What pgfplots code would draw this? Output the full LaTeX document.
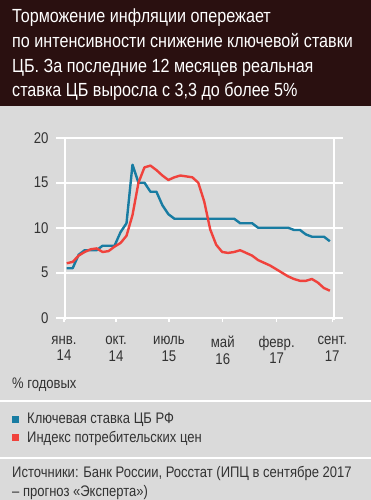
\documentclass[border=0pt]{standalone}
\usepackage{pgfplots}
\pgfplotsset{compat=1.18}
\usepackage{fontspec}
\setmainfont{Liberation Sans}[FakeStretch=0.85]
\definecolor{hdr}{RGB}{42,16,16}
\definecolor{bg}{RGB}{218,218,218}
\definecolor{kblue}{RGB}{24,124,162}
\definecolor{kred}{RGB}{240,66,60}
\definecolor{txt}{RGB}{50,50,50}
\begin{document}
\begin{tikzpicture}[x=1pt,y=1pt]
\useasboundingbox (0,0) rectangle (371,-500);
\fill[bg] (0,0) rectangle (371,-500);
\fill[hdr] (0,0) rectangle (371,-106);
\begin{scope}[every node/.style={anchor=base west, inner sep=0pt, text=white, font=\fontsize{19}{22}\selectfont}]
\node at (12,-23) {Торможение инфляции опережает};
\node at (12,-47.8) {по интенсивности снижение ключевой ставки};
\node at (12,-72.5) {ЦБ. За последние 12 месяцев реальная};
\node at (12,-97) {ставка ЦБ выросла с 3,3 до более 5\%};
\end{scope}

\begin{axis}[
  at={(56pt,-317.7pt)}, anchor=south west,
  scale only axis, width=287pt, height=180pt,
  xmin=-1.79, xmax=46.2, ymin=0, ymax=20,
  ytick={0,5,10,15,20},
  xtick={-0.45,8.25,17.1,26.1,35.1,44.4},
  xticklabels={{янв.\\14},{окт.\\14},{июль\\15},{май\\16},{февр.\\17},{сент.\\17}},
  xticklabel style={align=center, font=\fontsize{15.5}{16.5}\selectfont, text=txt, yshift=-11pt},
  yticklabel style={font=\fontsize{15.5}{15.5}\selectfont, text=txt},
  /pgf/number format/assume math mode=true,
  axis line style={draw=none},
  ymajorgrids,
  major grid style={white, line width=1.6pt},
  y tick style={draw=none},
  x tick style={white, line width=1.2pt},
  tick align=outside, major tick length=4pt,
  xtick pos=bottom, ytick pos=left,
  extra x ticks={-0.3,44.7},
  extra x tick labels={},
  extra x tick style={grid=major, major tick length=2pt},
]
\addplot[kblue, line width=2.4pt, line join=round] coordinates {
(0,5.5)(1,5.5)(2,7.0)(3,7.5)(4,7.5)(5,7.5)(6,8.0)(7,8.0)(8,8.0)(9,9.5)(10,10.5)
(11,17.0)(12,15.0)(13,15.0)(14,14.0)(15,14.0)(16,12.5)(17,11.5)(18,11.0)(19,11.0)
(20,11.0)(21,11.0)(22,11.0)(23,11.0)(24,11.0)(25,11.0)(26,11.0)(27,11.0)(28,11.0)
(29,10.5)(30,10.5)(31,10.5)(32,10.0)(33,10.0)(34,10.0)(35,10.0)(36,10.0)(37,10.0)
(38,9.75)(39,9.75)(40,9.25)(41,9.0)(42,9.0)(43,9.0)(44,8.5)
};
\addplot[kred, line width=2.4pt, line join=round] coordinates {
(0,6.05)(1,6.2)(2,6.9)(3,7.3)(4,7.6)(5,7.7)(6,7.3)(7,7.4)(8,7.9)(9,8.3)(10,9.1)
(11,11.4)(12,15.0)(13,16.7)(14,16.9)(15,16.4)(16,15.8)(17,15.3)(18,15.6)(19,15.8)
(20,15.7)(21,15.6)(22,15.0)(23,12.9)(24,9.8)(25,8.1)(26,7.3)(27,7.2)(28,7.3)
(29,7.5)(30,7.2)(31,6.9)(32,6.4)(33,6.1)(34,5.8)(35,5.4)(36,5.0)(37,4.6)(38,4.3)
(39,4.1)(40,4.1)(41,4.3)(42,3.9)(43,3.3)(44,3.0)
};
\end{axis}

\begin{scope}[every node/.style={anchor=base west, inner sep=0pt, text=txt, font=\fontsize{15.3}{15}\selectfont}]
\node at (12,-388) {\% годовых};
\node at (27,-423.5) {Ключевая ставка ЦБ РФ};
\node at (27,-442) {Индекс потребительских цен};
\node at (12,-477) {Источники: Банк России, Росстат (ИПЦ в сентябре 2017};
\node at (12,-496) {– прогноз «Эксперта»)};
\end{scope}
\draw[white, line width=1.5pt] (0,-401) -- (371,-401);
\fill[kblue] (11.5,-415.5) rectangle (18.5,-422.5);
\fill[kred] (11.5,-433.5) rectangle (18.5,-440.5);
\draw[white, line width=1.5pt] (0,-458) -- (371,-458);
\end{tikzpicture}
\end{document}
